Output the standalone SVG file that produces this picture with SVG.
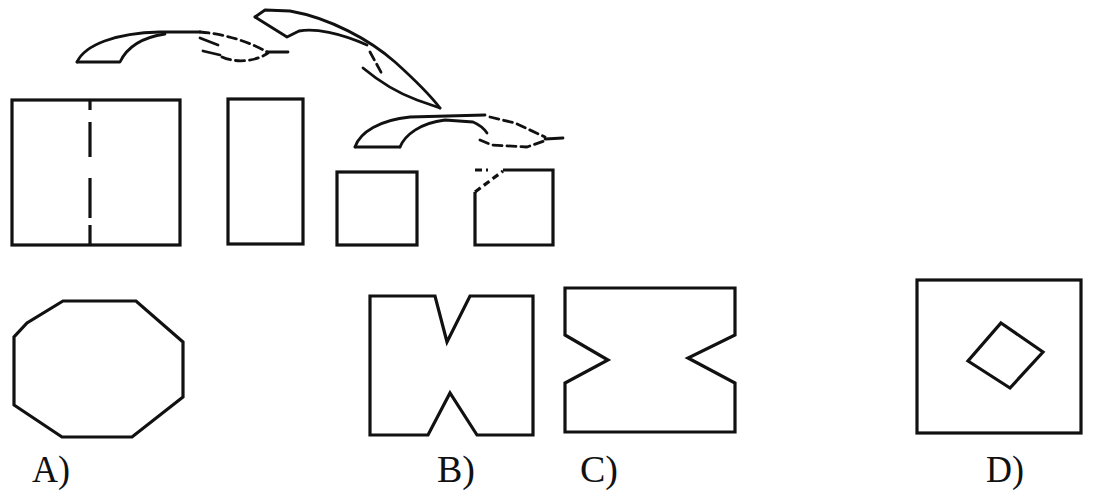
<svg xmlns="http://www.w3.org/2000/svg" width="1095" height="498" viewBox="0 0 1095 498">
<style>
.s{fill:none;stroke:#111;stroke-width:3.2;stroke-linejoin:miter}
.a{fill:none;stroke:#111;stroke-width:2.8;stroke-linecap:round;stroke-linejoin:round}
.d{stroke-dasharray:9 5}
.t{font-family:"Liberation Serif","Times New Roman",serif;font-size:38px;fill:#111}
</style>
<rect width="1095" height="498" fill="#fff"/>
<g id="step1">
<rect class="s" x="12" y="100" width="168" height="145"/>
<path class="s" d="M90,100 V110 M90,122 V157 M90,178 V218 M90,225 V245" stroke-width="2.5"/>
</g>
<g id="step2"><rect class="s" x="228" y="99" width="75" height="145"/></g>
<g id="step3"><rect class="s" x="337" y="172" width="80" height="73"/></g>
<g id="step4">
<path class="s" d="M503,170 H553 V245 H475 V192"/>
<path class="s" d="M475,192 L503,171 M475,170 H488" stroke-width="2.5" stroke-dasharray="7 4"/>
</g>
<g id="connectors">
<path class="a" d="M77,62 C85,45 115,33 160,32 L200,32"/>
<path class="a" d="M77,62 L120,62 C128,45 145,37 165,34"/>
<path class="a d" d="M200,32 C225,34 250,42 267,52"/>
<path class="a" d="M200,38 L218,45"/>
<path class="a" d="M203,51 L220,55" stroke-width="4"/>
<path class="a d" d="M222,57 C235,63 255,62 268,53"/>
<path class="a" d="M267,52 L288,52"/>
<path class="a" d="M255,17 L265,10 L290,11 C330,18 370,40 395,62 C415,80 430,95 440,108"/>
<path class="a" d="M255,17 L287,37 L299,31 C315,28 340,33 367,45"/>
<path class="a d" d="M370,52 L382,74"/>
<path class="a" d="M363,68 C375,78 395,92 417,100 L440,108"/>
<path class="a" d="M355,147 L400,147"/>
<path class="a" d="M355,147 C360,132 380,120 410,117 L485,115"/>
<path class="a d" d="M490,117 L515,123 L545,137"/>
<path class="a" d="M400,147 C405,135 420,123 445,120 L473,122 C480,125 485,130 487,133"/>
<path class="a d" d="M480,140 L492,145 L527,147 L547,140"/>
<path class="a" d="M545,139 L563,138"/>
</g>
<g id="optionA">
<path class="s" d="M63,301 H136 L183,342 V397 L132,437 H62 L14,405 V337 L27,323 Z"/>
<text class="t" x="32" y="482" textLength="38" lengthAdjust="spacingAndGlyphs">A)</text>
</g>
<g id="optionB">
<path class="s" d="M370,296 H435 L447,342 L470,296 H533 V435 H477 L450,393 L428,435 H370 Z"/>
<text class="t" x="437" y="482" textLength="38" lengthAdjust="spacingAndGlyphs">B)</text>
</g>
<g id="optionC">
<path class="s" d="M565,288 H735 V335 L688,358 L735,383 V432 H565 V383 L608,360 L565,335 Z"/>
<text class="t" x="580" y="482" textLength="38" lengthAdjust="spacingAndGlyphs">C)</text>
</g>
<g id="optionD">
<rect class="s" x="917" y="280" width="164" height="153"/>
<path class="s" d="M1001,323 L1043,352 L1010,388 L968,361 Z" stroke-width="2.6"/>
<text class="t" x="986" y="482" textLength="38" lengthAdjust="spacingAndGlyphs">D)</text>
</g>
</svg>
